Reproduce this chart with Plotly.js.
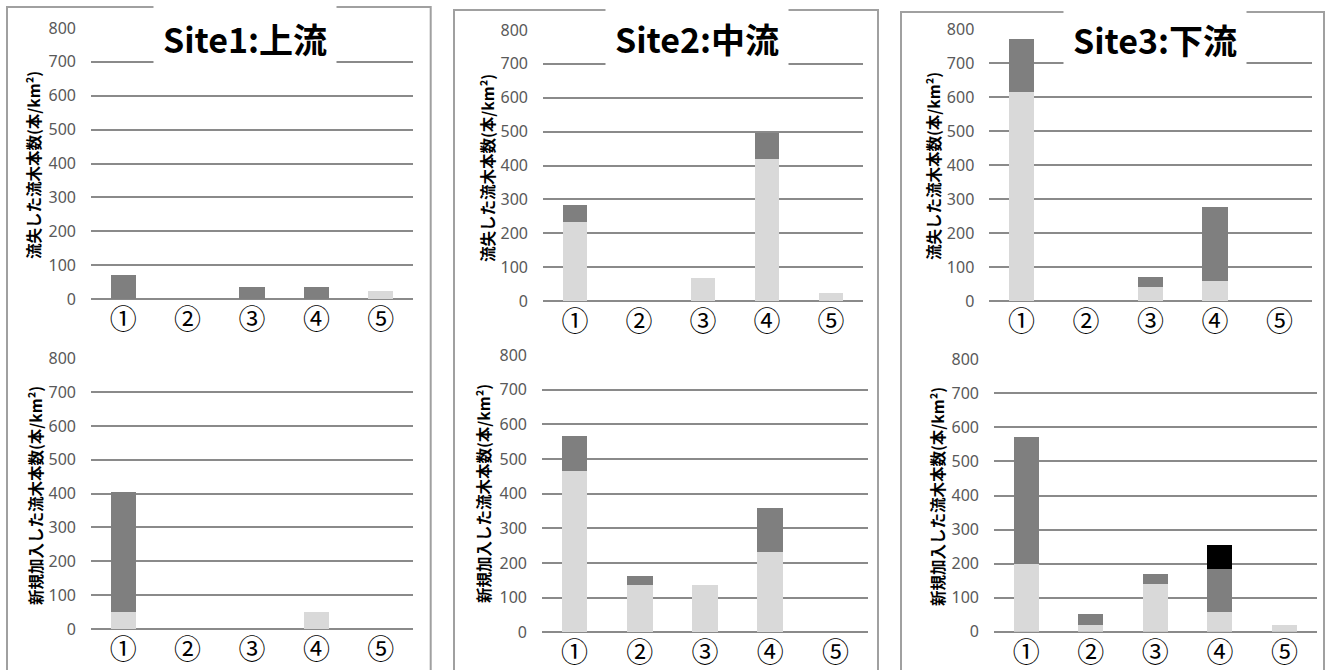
<!DOCTYPE html>
<html>
<head>
<meta charset="utf-8">
<script src="https://cdn.plot.ly/plotly-3.0.1.min.js"></script>
<style>html,body{margin:0;padding:0;background:#fff;}#chart{width:1325px;height:670px;}</style>
</head>
<body>
<div id="chart"></div>
<script>
// ---- data ----
const categories = ['①','②','③','④','⑤'];
const siteTitles = ['Site1:上流','Site2:中流','Site3:下流'];
const yTitleLost = '流失した流木本数(本/km²)';
const yTitleNew = '新規加入した流木本数(本/km²)';
const yTickVals = [0,100,200,300,400,500,600,700,800];

// Site1
const s1LostLight = [0, 0, 0, 0, 25];
const s1LostDark  = [70, 0, 35, 35, 0];
const s1NewLight  = [50, 0, 0, 50, 0];
const s1NewDark   = [355, 0, 0, 0, 0];
// Site2
const s2LostLight = [232, 0, 69, 418, 23];
const s2LostDark  = [51, 0, 0, 77, 0];
const s2NewLight  = [464, 137, 137, 231, 0];
const s2NewDark   = [102, 26, 0, 128, 0];
// Site3
const s3LostLight = [615, 0, 40, 60, 0];
const s3LostDark  = [155, 0, 30, 217, 0];
const s3NewLight  = [198, 20, 139, 59, 20];
const s3NewDark   = [373, 31, 30, 126, 0];
const s3NewBlack  = [0, 0, 0, 70, 0];

// ---- layout helpers ----
const W = 1325, H = 670;
const fx = p => p / W;
const fy = p => 1 - p / H;
const FONT = '"Noto Sans CJK JP", "Noto Sans", sans-serif';
const NUMFONT = '"Noto Sans", "Noto Sans CJK JP", sans-serif';
const LIGHT = '#d9d9d9', DARK = '#7f7f7f', BLACK = '#000000';
const GRID = '#8a8a8a';

// subplot pixel boxes: [x0, x1, yTop(800), yBottom(0)]
const boxes = [
  [91, 413, 28, 299],
  [91, 413, 358.3, 629],
  [543, 863, 30, 301],
  [542, 868, 355, 632.3],
  [989.3, 1311.7, 29.3, 301],
  [994, 1316.7, 359.3, 631.7]
];

const panels = [
  {light: s1LostLight, dark: s1LostDark},
  {light: s1NewLight, dark: s1NewDark},
  {light: s2LostLight, dark: s2LostDark},
  {light: s2NewLight, dark: s2NewDark},
  {light: s3LostLight, dark: s3LostDark},
  {light: s3NewLight, dark: s3NewDark, black: s3NewBlack}
];

const traces = [];
const layout = {
  width: W, height: H,
  margin: {l: 0, r: 0, t: 0, b: 0},
  paper_bgcolor: '#fff', plot_bgcolor: 'rgba(0,0,0,0)',
  barmode: 'stack', bargap: 0.61,
  showlegend: false,
  font: {family: FONT, color: '#000'},
  annotations: [], shapes: []
};

panels.forEach((p, i) => {
  const n = i + 1;
  const xa = n === 1 ? 'x' : 'x' + n;
  const ya = n === 1 ? 'y' : 'y' + n;
  const series = [[p.light, LIGHT], [p.dark, DARK]];
  if (p.black) series.push([p.black, BLACK]);
  series.forEach(([vals, col]) => {
    traces.push({
      type: 'bar', x: categories, y: vals, xaxis: xa, yaxis: ya,
      marker: {color: col, line: {width: 0}}, hoverinfo: 'skip'
    });
  });
  const b = boxes[i];
  layout[n === 1 ? 'xaxis' : 'xaxis' + n] = {
    domain: [fx(b[0]), fx(b[1])], anchor: ya, type: 'category',
    showgrid: false, showline: false, zeroline: false, ticks: '',
    tickfont: {size: 27, color: '#000', family: FONT}, ticklabelstandoff: 2,
    fixedrange: true
  };
  layout[n === 1 ? 'yaxis' : 'yaxis' + n] = {
    domain: [fy(b[3]), fy(b[2])], anchor: xa, range: [0, 800],
    tickvals: yTickVals, showgrid: true, gridcolor: GRID, gridwidth: 2,
    zeroline: true, zerolinecolor: GRID, zerolinewidth: 2,
    showline: false, ticks: '',
    tickfont: {size: 16, color: '#595959', family: NUMFONT}, ticklabelstandoff: 14,
    fixedrange: true
  };
});

// y-axis titles (rotated annotations)
const yTitlePos = [[33, 165, yTitleLost], [35, 496, yTitleNew], [487, 168, yTitleLost],
                   [483, 494, yTitleNew], [933, 166, yTitleLost], [937, 497, yTitleNew]];
yTitlePos.forEach(([x, y, t]) => {
  layout.annotations.push({
    xref: 'paper', yref: 'paper', x: fx(x), y: fy(y), text: t, textangle: -90,
    showarrow: false, xanchor: 'center', yanchor: 'middle',
    font: {size: 15.5, color: '#000', family: FONT, weight: 'bold'}
  });
});

// site titles with white boxes
const titlePos = [[245, 38], [697, 39], [1155, 40]];
siteTitles.forEach((t, i) => {
  layout.annotations.push({
    xref: 'paper', yref: 'paper', x: fx(titlePos[i][0]), y: fy(titlePos[i][1]),
    text: '<b>' + t + '</b>', showarrow: false, xanchor: 'center', yanchor: 'middle',
    bgcolor: '#ffffff', borderpad: 9,
    font: {size: 34, color: '#000', family: FONT}
  });
});

// panel frames
const frames = [[7, 430.7, 7], [454, 878, 10], [901, 1324, 12]];
frames.forEach(([x0, x1, y0]) => {
  layout.shapes.push({
    type: 'rect', xref: 'paper', yref: 'paper',
    x0: fx(x0), x1: fx(x1), y0: fy(700), y1: fy(y0),
    line: {color: '#a0a0a0', width: 2}, fillcolor: 'rgba(0,0,0,0)', layer: 'below'
  });
});

Plotly.newPlot('chart', traces, layout, {staticPlot: true, displayModeBar: false});
</script>
</body>
</html>
